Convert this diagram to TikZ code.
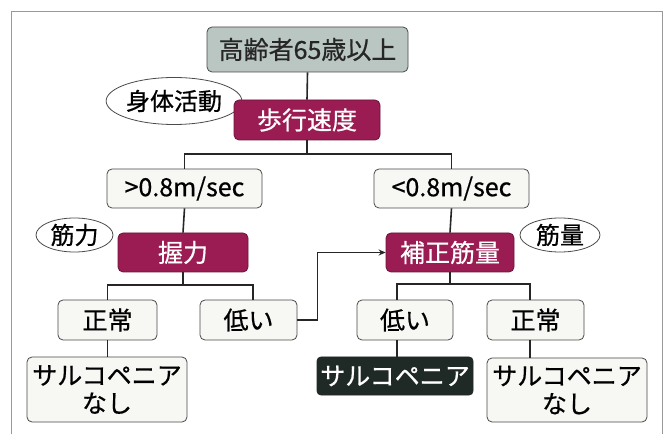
\documentclass[tikz,border=0pt]{standalone}
\usepackage{fontspec}
\newfontfamily\jp[FakeBold=0.6]{Noto Sans CJK JP}
\usetikzlibrary{arrows.meta}
\definecolor{topfill}{HTML}{B9C6C1}
\definecolor{magfill}{HTML}{9A1C52}
\definecolor{darkfill}{HTML}{1F2925}
\definecolor{boxfill}{HTML}{F7F7F4}
\definecolor{edge}{HTML}{4A4A4A}
\tikzset{
  base/.style={font=\jp\fontsize{25}{28}\selectfont, inner sep=0pt, align=center, line width=0.8pt},
  plainbox/.style={base, draw=edge, fill=boxfill, rounded corners=5pt},
  topbox/.style={base, draw=edge, fill=topfill, rounded corners=5pt, text=black!85},
  magbox/.style={base, draw=magfill!70!black, fill=magfill, rounded corners=5pt, text=white},
  darkbox/.style={base, draw=darkfill, fill=darkfill, rounded corners=4pt, text=white},
  oval/.style={base, font=\jp\fontsize{24}{28}\selectfont, draw=edge, fill=white, ellipse},
  conn/.style={line width=1.6pt, draw=black!85},
}
\usetikzlibrary{shapes.geometric}
\begin{document}
\begin{tikzpicture}[x=1pt,y=-1pt]
\useasboundingbox (0,0) rectangle (669,435);
\fill[white] (0,0) rectangle (669,435);
\draw[gray!80, line width=0.7pt] (11,434) -- (11,11) -- (662,11) -- (662,434);

\node[topbox, minimum width=201pt, minimum height=45pt] (top) at (307.5,49.5) {高齢者65歳以上};
\node[oval, minimum width=116pt, minimum height=47pt] (act) at (174,101) {身体活動};
\node[magbox, minimum width=146pt, minimum height=40pt] (walk) at (307,120) {歩行速度};
\node[plainbox, minimum width=155pt, minimum height=39pt] (fast) at (184.5,188.5) {>0.8m/sec};
\node[plainbox, minimum width=155pt, minimum height=39pt] (slow) at (451.5,188.5) {<0.8m/sec};
\node[oval, minimum width=77pt, minimum height=34pt] (mus) at (74.5,235) {筋力};
\node[oval, minimum width=80pt, minimum height=34pt] (mass) at (560,235) {筋量};
\node[magbox, minimum width=130pt, minimum height=39pt] (grip) at (183,252.5) {握力};
\node[magbox, minimum width=128pt, minimum height=39pt] (corr) at (450,252.5) {補正筋量};
\node[plainbox, minimum width=99pt, minimum height=40pt] (normL) at (107.5,320) {正常};
\node[plainbox, minimum width=97pt, minimum height=40pt] (lowL) at (248.5,320) {低い};
\node[plainbox, minimum width=96pt, minimum height=40pt] (lowR) at (405,320) {低い};
\node[plainbox, minimum width=97pt, minimum height=40pt] (normR) at (535.5,320) {正常};
\node[plainbox, minimum width=160pt, minimum height=65pt] (sarcL) at (107,389.5) {サルコペニア\\なし};
\node[darkbox, minimum width=156pt, minimum height=38pt] (sarcD) at (395,376) {サルコペニア};
\node[plainbox, minimum width=160pt, minimum height=64pt] (sarcR) at (567,390) {サルコペニア\\なし};

\coordinate (barA) at (0,154);
\coordinate (barB) at (0,285);
\coordinate (barC) at (0,284);

\draw[conn] (top.south) -- (walk.north);
\draw[conn] (walk.south) -- (walk.south |- barA);
\draw[conn] (fast.north) -- (fast.north |- barA) -- (slow.north |- barA) -- (slow.north);
\draw[conn] (fast.south) -- (grip.north);
\draw[conn] (slow.south) -- (corr.north);
\draw[conn] (grip.south) -- (grip.south |- barB);
\draw[conn] (normL.north) -- (normL.north |- barB) -- ([xshift=4.5pt]lowL.north |- barB) -- ([xshift=4.5pt]lowL.north);
\draw[conn] (corr.south) -- (corr.south |- barC);
\draw[conn] ([xshift=-8pt]lowR.north) -- ([xshift=-8pt]lowR.north |- barC) -- ([xshift=-5.5pt]normR.north |- barC) -- ([xshift=-5.5pt]normR.north);
\draw[conn] (normL.south) -- (normL.south |- sarcL.north);
\draw[conn] ([xshift=-8pt]lowR.south) -- ([xshift=-8pt]lowR.south |- sarcD.north);
\draw[conn] ([xshift=-5.5pt]normR.south) -- ([xshift=-5.5pt]normR.south |- sarcR.north);
\draw[conn, line width=1.3pt, -{Stealth[length=7pt,width=6pt]}] (lowL.east) -- ++(20,0) |- (corr.west);
\end{tikzpicture}
\end{document}
